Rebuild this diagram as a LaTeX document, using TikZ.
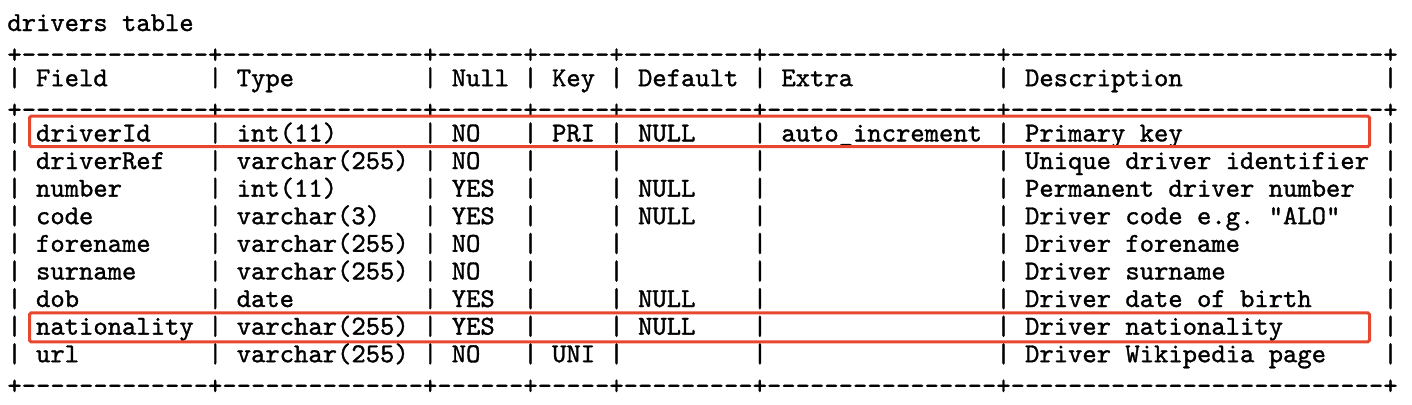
\documentclass[tikz,border=0pt]{standalone}
\usepackage{fontspec}
\newfontfamily\tblfont{lmmono10-regular.otf}[FakeBold=1.2]
\definecolor{boxred}{HTML}{E8472F}
% a run of n dashes for the ascii borders
\newcommand\dashrun[1]{\foreach\i in {1,...,#1}{-}}
\tikzset{
	cell/.style={font=\tblfont\fontsize{13.65}{13.8}\selectfont, anchor=base west, inner sep=0pt},
	border/.style={cell, yshift=-2.2pt},
	hilite/.style={draw=boxred, line width=1.5pt, rounded corners=0.8pt},
}
\begin{document}
\frenchspacing
\begin{tikzpicture}[x=7.1667pt, y=-13.8pt]
	\useasboundingbox (-0.4884,-1.1232) rectangle (98.024,13.5145);
	\node[cell] (title) at (0,0) {drivers table};
	% border lines
	\foreach \ln/\nm in {1/top,3/sep,13/bottom}
		\node[border] (\nm) at (0,\ln) {+\dashrun{13}+\dashrun{14}+\dashrun{6}+\dashrun{5}+\dashrun{9}+\dashrun{16}+\dashrun{26}+};
	% column bars
	\foreach \ln in {2,4,5,...,12}
		\foreach \b in {0,14,29,36,42,52,69,96}
			\node[cell] (bar-\ln-\b) at (\b,\ln) {|};
	% header
	\foreach \c/\txt/\nm in {2/Field/field,16/Type/type,31/Null/null,38/Key/key,44/Default/default,54/Extra/extra,71/Description/desc}
		\node[cell] (head-\nm) at (\c,2) {\txt};
	% rows
	\foreach \ln/\fld/\typ/\nul/\ky/\dft/\ext/\dsc in {
		4/driverId/int(11)/NO/PRI/NULL/auto\_increment/Primary key,
		5/driverRef/varchar(255)/NO////Unique driver identifier,
		6/number/int(11)/YES//NULL//Permanent driver number,
		7/code/varchar(3)/YES//NULL//Driver code e.g. "ALO",
		8/forename/varchar(255)/NO////Driver forename,
		9/surname/varchar(255)/NO////Driver surname,
		10/dob/date/YES//NULL//Driver date of birth,
		11/nationality/varchar(255)/YES//NULL//Driver nationality,
		12/url/varchar(255)/NO/UNI///Driver Wikipedia page}{
		\node[cell] (field-\ln) at (2,\ln) {\fld};
		\node[cell] (type-\ln) at (16,\ln) {\typ};
		\node[cell] (null-\ln) at (31,\ln) {\nul};
		\node[cell] (key-\ln) at (38,\ln) {\ky};
		\node[cell] (default-\ln) at (44,\ln) {\dft};
		\node[cell] (extra-\ln) at (54,\ln) {\ext};
		\node[cell] (desc-\ln) at (71,\ln) {\dsc};
	}
	% highlighted rows
	\draw[hilite] (1.57,3.087) rectangle (95.06,4.19);
	\draw[hilite] (1.57,10.214) rectangle (95.06,11.264);
\end{tikzpicture}
\end{document}
